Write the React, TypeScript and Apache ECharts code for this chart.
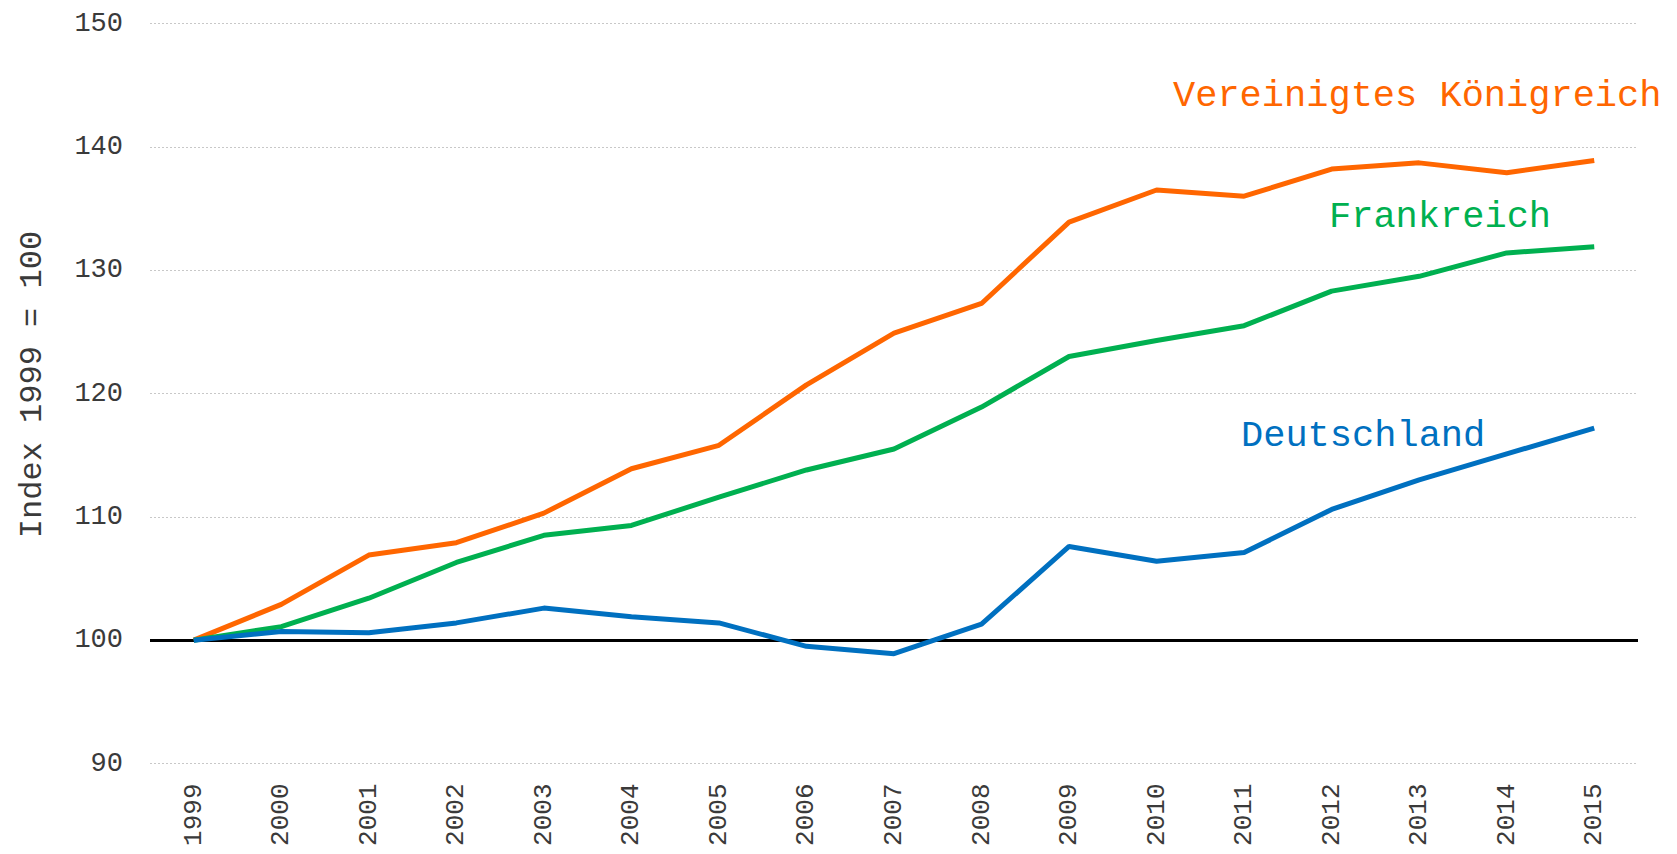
import React, { useEffect, useRef } from "react";
import * as echarts from "echarts";

const years = ["1999","2000","2001","2002","2003","2004","2005","2006","2007","2008","2009","2010","2011","2012","2013","2014","2015"];
const uk = [100, 102.9, 106.9, 107.9, 110.3, 113.9, 115.8, 120.7, 124.9, 127.3, 133.9, 136.5, 136.0, 138.2, 138.7, 137.9, 138.9];
const fr = [100, 101.1, 103.4, 106.3, 108.5, 109.3, 111.6, 113.8, 115.5, 118.9, 123.0, 124.3, 125.5, 128.3, 129.5, 131.4, 131.9];
const de = [100, 100.7, 100.6, 101.4, 102.6, 101.9, 101.4, 99.5, 98.9, 101.3, 107.6, 106.4, 107.1, 110.6, 113.0, 115.1, 117.2];
const names = ["Vereinigtes Königreich", "Frankreich", "Deutschland"];
const colors = ["#FF6600", "#00B050", "#0070C0"];
const yName = "Index 1999 = 100";

const FONT = "'Liberation Mono', 'DejaVu Sans Mono', monospace";

export default function App() {
  const ref = useRef<HTMLDivElement>(null);
  useEffect(() => {
    if (!ref.current) return;
    const chart = echarts.init(ref.current, null, { renderer: "svg" });
    const mk = (name: string, data: number[], color: string, extra: any = {}) => ({
      name,
      type: "line",
      data,
      symbol: "none",
      lineStyle: { color, width: 5 },
      itemStyle: { color },
      z: 3,
      ...extra,
    });
    chart.setOption({
      animation: false,
      grid: { left: 150, right: 39, top: 23.5, bottom: 90.5, containLabel: false },
      xAxis: {
        type: "category",
        data: years,
        boundaryGap: true,
        axisLine: { show: false },
        axisTick: { show: false },
        axisLabel: { rotate: 90, margin: 20, fontFamily: FONT, fontSize: 26, color: "#3a3a3a" },
        splitLine: { show: false },
      },
      yAxis: {
        type: "value",
        min: 90,
        max: 150,
        interval: 10,
        name: yName,
        nameLocation: "middle",
        nameRotate: 90,
        nameGap: 102,
        nameTextStyle: { fontFamily: FONT, fontSize: 32, color: "#3a3a3a", padding: [0, 0, 0, 18] },
        axisLine: { show: false },
        axisTick: { show: false },
        axisLabel: { margin: 27, fontFamily: FONT, fontSize: 27, color: "#3a3a3a" },
        splitLine: { show: true, lineStyle: { color: "#c8c8c8", type: [2, 2], width: 1 } },
      },
      series: [
        mk(names[0], uk, colors[0], {
          markLine: {
            silent: true,
            symbol: "none",
            label: { show: false },
            lineStyle: { color: "#000", width: 3, type: "solid" },
            data: [{ yAxis: 100 }],
            z: 2,
          },
        }),
        mk(names[1], fr, colors[1]),
        mk(names[2], de, colors[2]),
      ],
      graphic: [
        { type: "text", left: 1173, top: 77, style: { text: names[0], fill: colors[0], font: `37px ${FONT}` } },
        { type: "text", left: 1329, top: 198, style: { text: names[1], fill: colors[1], font: `37px ${FONT}` } },
        { type: "text", left: 1241, top: 417, style: { text: names[2], fill: colors[2], font: `37px ${FONT}` } },
      ],
    });
    return () => chart.dispose();
  }, []);
  return <div ref={ref} style={{ width: 1677, height: 854, position: "absolute", left: 0, top: 0 }} />;
}
